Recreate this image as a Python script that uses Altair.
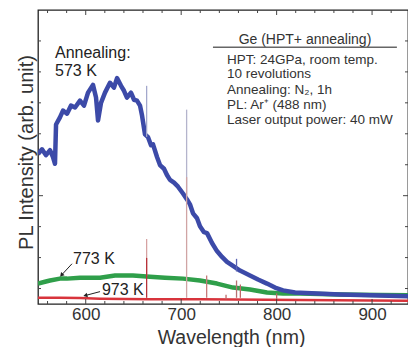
import altair as alt
import pandas as pd

FONT = "Liberation Sans"

# ---------------- data ----------------
blue_nm = [550, 554.2, 558.4, 562.6, 565.7, 567.8, 568.9, 573, 576.2, 580.4, 584.6, 588.8, 594,
           598.2, 602.4, 607.6, 610.8, 612.9, 616, 620.2, 625.4, 629.6, 632.8, 637, 640.1, 643.2,
           647.4, 650.6, 653.7, 656.9, 659, 662.1, 665.3, 668.4, 670.5, 674.7, 677.8, 682, 685.1,
           688.3, 692.5, 696.7, 701.9, 706.1, 709.2, 712.4, 716.6, 719.7, 723.9, 727.1, 732.3,
           737.5, 742.8, 748, 754.3, 761.6, 772.1, 780.5, 789.9, 798.3, 806.7, 819.3, 842.3,
           866.4, 897.8, 946]
blue_u = [4.35, 4.5, 4.31, 4.47, 4.25, 4.03, 5.3, 5.53, 5.75, 5.65, 5.91, 5.85, 6.07,
          5.91, 6.33, 6.58, 6.17, 5.43, 6.0, 6.33, 6.65, 6.49, 6.8, 6.55, 6.39, 6.17,
          6.33, 6.1, 6.07, 5.91, 5.59, 4.98, 4.89, 4.63, 4.66, 4.25, 3.99, 3.87, 3.67,
          3.51, 3.42, 3.29, 3.07, 2.88, 2.72, 2.43, 2.27, 2.01, 1.82, 1.79, 1.47,
          1.21, 1.02, 0.86, 0.73, 0.58, 0.42, 0.29, 0.16, 0.03, -0.06, -0.13, -0.16,
          -0.19, -0.22, -0.26]

green_nm = [550, 557.3, 562.6, 573, 580.4, 594, 615, 630.7, 649.5, 667.3, 683, 701.9, 719.7,
            737.5, 754.3, 772.1, 789.9, 806.7, 824.5, 866.4, 908.3, 946]
green_u = [0.16, 0.22, 0.26, 0.32, 0.32, 0.35, 0.35, 0.42, 0.42, 0.38, 0.35, 0.32, 0.26,
           0.16, 0.03, -0.03, -0.13, -0.16, -0.16, -0.19, -0.21, -0.22]

red_nm = [550, 573, 594, 615, 667.3, 719.7, 824.5, 946]
red_u = [-0.3, -0.3, -0.31, -0.33, -0.35, -0.35, -0.37, -0.4]

# sharp emission lines: position, top, bottom, colour
spike_nm = [663.8, 663.8, 663.8, 705.7, 705.7, 726.7, 758.0, 758.0, 762.0, 800.0, 747.0]
spike_top = [6.55, 1.6, 0.99, 5.78, 3.6, 0.42, 0.96, 0.26, 0.13, -0.16, -0.2]
spike_bot = [4.9, 0.4, -0.3, 2.97, -0.3, -0.3, 0.55, -0.3, -0.3, -0.35, -0.35]
spike_col = ["#a3a8cc", "#d6a2a2", "#b8323a", "#b4b4cc", "#d0a4a4", "#c87a7a",
             "#5a64b4", "#b87070", "#c06868", "#c06868", "#c06868"]

x_major = [600, 700, 800, 900]
x_minor = [560, 580, 620, 640, 660, 680, 720, 740, 760, 780, 820, 840, 860, 880, 920]
y_ticks = [0, 1, 2, 4, 5, 6, 7, 8]
y_major = [3]

W, H = 370, 294
XDOM = [550, 550 + W / 0.9545]
YDOM = [-0.5, 9]

xs = alt.Scale(domain=XDOM, nice=False, zero=False)
ys = alt.Scale(domain=YDOM, nice=False, zero=False)

def curve(nm, u, color, sw):
    df = pd.DataFrame({"nm": nm, "u": u})
    return alt.Chart(df).mark_line(color=color, strokeWidth=sw, clip=True, strokeJoin="round").encode(
        x=alt.X("nm:Q", scale=xs,
                axis=alt.Axis(values=x_major, ticks=False, domain=False, grid=False,
                              labelFontSize=17, labelFont=FONT, labelColor="#333", labelPadding=2,
                              title="Wavelength (nm)", titleFontSize=19.5, titleFont=FONT,
                              titleFontWeight="normal", titleColor="#333", titleY=39,
                              titleX=193, titleBaseline="alphabetic")),
        y=alt.Y("u:Q", scale=ys,
                axis=alt.Axis(labels=False, ticks=False, domain=False, grid=False,
                              title="PL Intensity (arb. unit)", titleFontSize=20, titleFont=FONT,
                              titleFontWeight="normal", titleColor="#333", titleX=-6, titleY=142,
                              titleBaseline="alphabetic")),
        order=alt.Order("nm:Q"),
    )

red = curve(red_nm, red_u, "#d8343c", 2.5)
green = curve(green_nm, green_u, "#2f9f4a", 4.5)
blue = curve(blue_nm, blue_u, "#3c4aa8", 4.5)

spk = pd.DataFrame({"nm": spike_nm, "top": spike_top, "bot": spike_bot, "c": spike_col})
spikes = alt.Chart(spk).mark_rule(strokeWidth=1.3).encode(
    x=alt.X("nm:Q", scale=xs), y=alt.Y("top:Q", scale=ys), y2="bot:Q",
    color=alt.Color("c:N", scale=None))

# frame ticks (inward)
def xt(vals, length, top):
    d = pd.DataFrame({"v": vals})
    if top:
        enc = dict(y=alt.value(0), y2=alt.value(length))
    else:
        enc = dict(y=alt.value(H), y2=alt.value(H - length))
    return alt.Chart(d).mark_rule(color="#444", strokeWidth=1).encode(
        x=alt.X("v:Q", scale=xs), **enc)

def yt(vals, length, right):
    d = pd.DataFrame({"v": vals})
    if right:
        enc = dict(x=alt.value(W), x2=alt.value(W - length))
    else:
        enc = dict(x=alt.value(0), x2=alt.value(length))
    return alt.Chart(d).mark_rule(color="#444", strokeWidth=1).encode(
        y=alt.Y("v:Q", scale=ys), **enc)

ticks = [xt(x_major, 5, False), xt(x_minor, 3, False), xt(x_major, 5, True), xt(x_minor, 3, True),
         yt(y_ticks, 3, False), yt(y_major, 5, False), yt(y_ticks, 3, True), yt(y_major, 5, True)]

# annotations
ann_text = ["Annealing:", "573 K", "773 K", "973 K"]
ann_x = [567.8, 567.8, 586.7, 617.0]
ann_y = [7.6, 7.02, 0.96, -0.06]
ann = alt.Chart(pd.DataFrame({"t": ann_text, "x": ann_x, "y": ann_y})).mark_text(
    align="left", baseline="middle", font=FONT, fontSize=16, color="#222").encode(
    x=alt.X("x:Q", scale=xs), y=alt.Y("y:Q", scale=ys), text="t:N")

arr_x1 = [585.6, 615.0]
arr_y1 = [0.8, -0.1]
arr_x2 = [575.1, 600.3]
arr_y2 = [0.45, -0.22]
arr_ang = [222, 254]
arrdf = pd.DataFrame({"x1": arr_x1, "y1": arr_y1, "x2": arr_x2, "y2": arr_y2, "a": arr_ang})
arr_lines = alt.Chart(arrdf).mark_rule(color="#222", strokeWidth=1).encode(
    x=alt.X("x1:Q", scale=xs), y=alt.Y("y1:Q", scale=ys), x2="x2:Q", y2="y2:Q")
arr_heads = alt.Chart(arrdf).mark_point(shape="triangle", filled=True, color="#222", size=22,
                                        opacity=1).encode(
    x=alt.X("x2:Q", scale=xs), y=alt.Y("y2:Q", scale=ys), angle=alt.Angle("a:Q", scale=None))

# legend box
leg_title = alt.Chart(pd.DataFrame({"t": ["Ge (HPT+ annealing)"], "x": [829.7], "y": [8.02]})).mark_text(
    align="center", baseline="middle", font=FONT, fontSize=14, color="#333").encode(
    x=alt.X("x:Q", scale=xs), y=alt.Y("y:Q", scale=ys), text="t:N")
leg_line = alt.Chart(pd.DataFrame({"x": [733.3], "x2": [926.0], "y": [7.8]})).mark_rule(
    color="#666", strokeWidth=1.5).encode(
    x=alt.X("x:Q", scale=xs), x2="x2:Q", y=alt.Y("y:Q", scale=ys))
leg_lines = ["HPT: 24GPa, room temp.", "10 revolutions", "Annealing: N\u2082, 1h",
             "PL: Ar\u207a (488 nm)", "Laser output power: 40 mW"]
leg_y = [7.38, 6.93, 6.42, 5.94, 5.46]
leg_txt = alt.Chart(pd.DataFrame({"t": leg_lines, "x": [748.0] * 5, "y": leg_y})).mark_text(
    align="left", baseline="middle", font=FONT, fontSize=13.5, color="#333").encode(
    x=alt.X("x:Q", scale=xs), y=alt.Y("y:Q", scale=ys), text="t:N")

chart = alt.layer(
    red, green, blue, spikes, *ticks, ann, arr_lines, arr_heads, leg_title, leg_line, leg_txt
).properties(
    width=W, height=H,
    autosize=alt.AutoSizeParams(type="none"),
    padding={"left": 30, "top": 2, "right": 0, "bottom": 43},
    background="white",
).configure_view(stroke="#222", strokeWidth=1.3)

chart.save("out.html", embed_options={"renderer": "svg", "actions": False})
